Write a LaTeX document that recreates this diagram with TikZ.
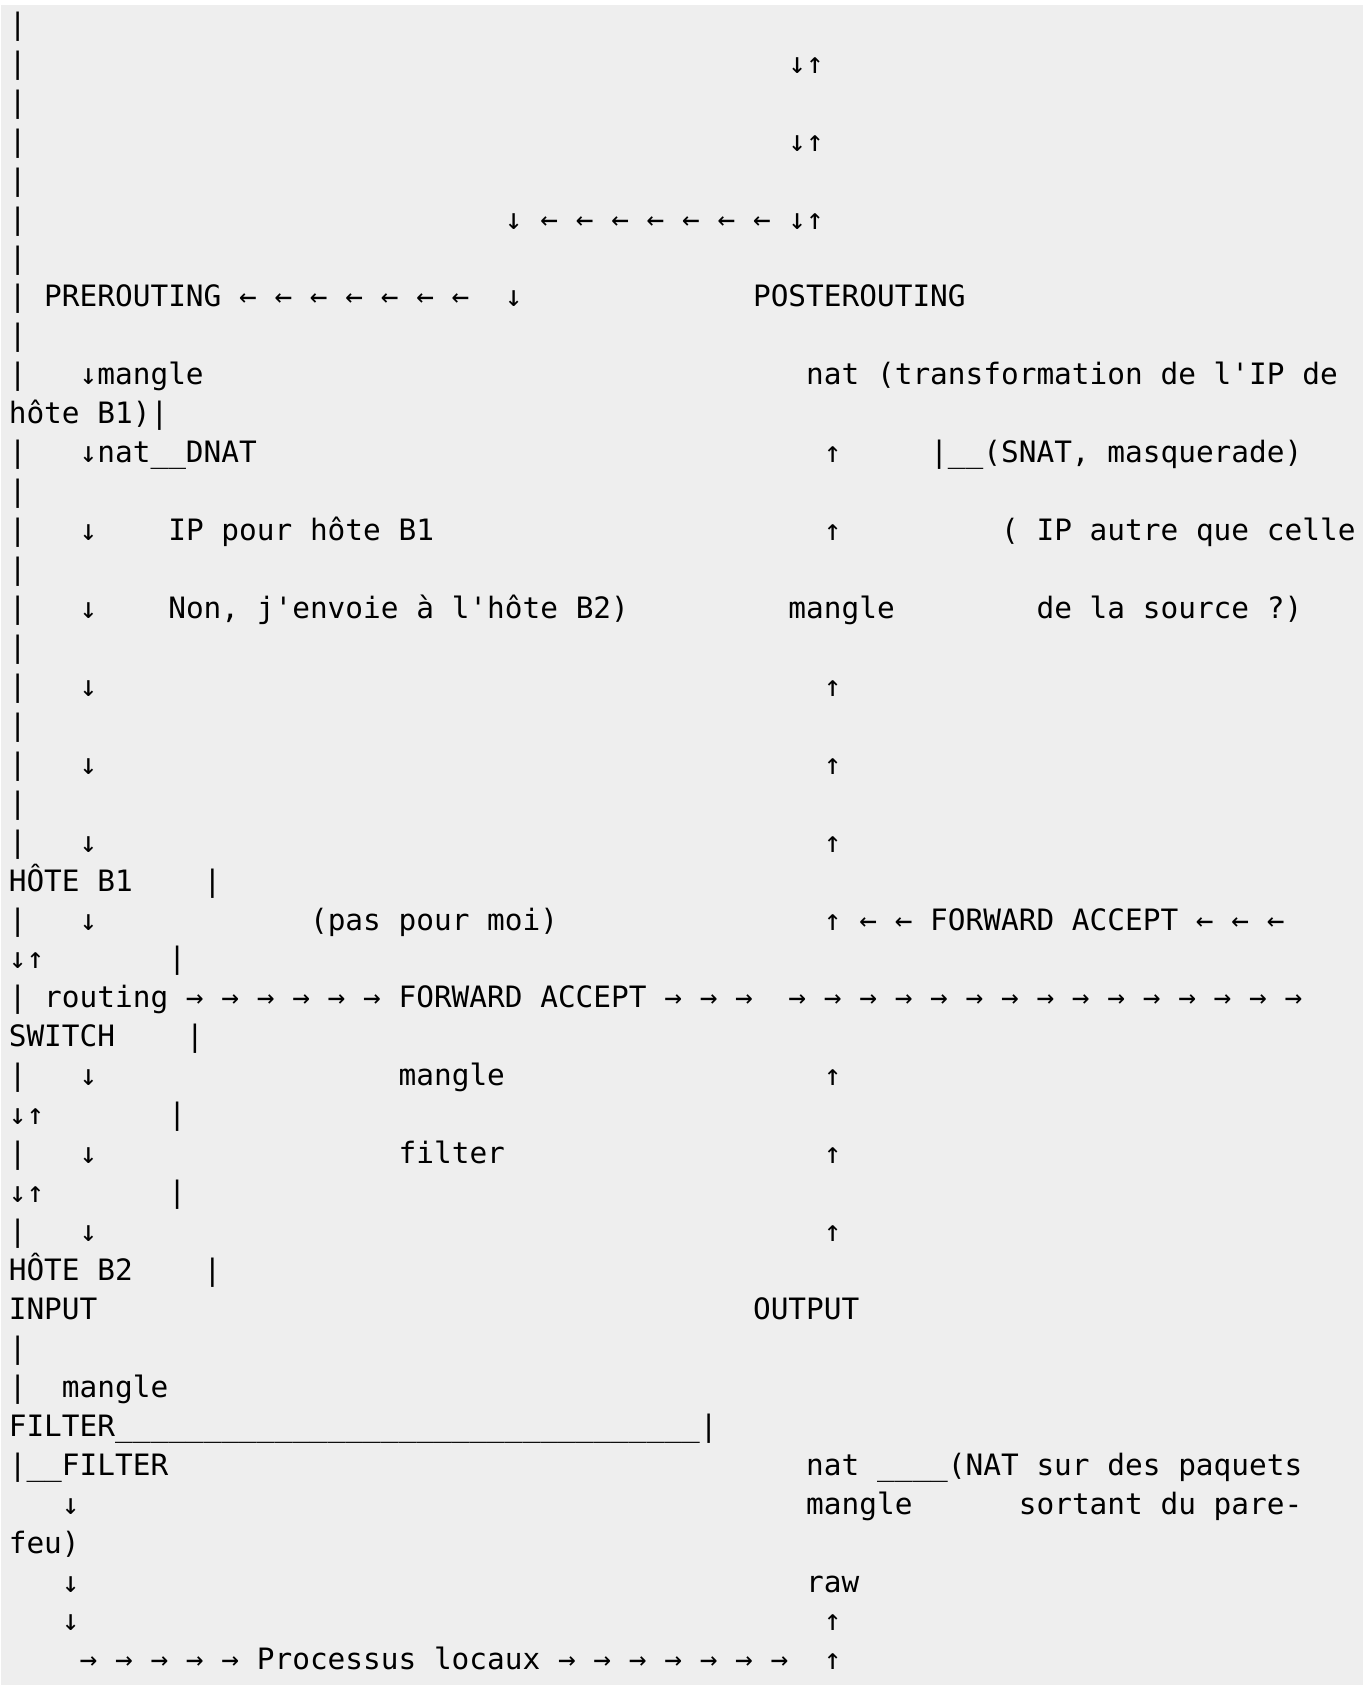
\documentclass[tikz,border=0pt]{standalone}
\usepackage{fontspec}
\setmonofont{DejaVu Sans Mono}
\definecolor{bggray}{HTML}{EEEEEE}
\newcommand\seg[4]{\node[txt] (#1) at ({8.8+17.72*(#2)},{34.4+38.94*(#3)}) {#4};}
\begin{document}
\begin{tikzpicture}[x=0.5pt,y=-0.5pt,
  txt/.style={anchor=base west, inner sep=0pt, outer sep=0pt,
    font=\ttfamily\fontsize{14.715pt}{19.47pt}\selectfont, text=black}]
\fill[white] (0,0) rectangle (1370,1685);
\useasboundingbox (0,0) rectangle (1370,1685);
\fill[bggray] (1,5) rectangle (1363,1685);
% left border bars
\foreach \l in {0,1,2,3,4,5,6,7,8,9,11,12,13,14,15,16,17,18,19,20,21,23,25,27,29,31,34,35}{
  \seg{bar\l}{0}{\l}{|}
}
% top
\seg{a1}{44}{1}{↓↑}
\seg{a3}{44}{3}{↓↑}
\seg{a5}{28}{5}{↓ ← ← ← ← ← ← ← ↓↑}
\seg{pre}{2}{7}{PREROUTING ← ← ← ← ← ← ←}
\seg{d7}{28}{7}{↓}
\seg{post}{42}{7}{POSTEROUTING}
\seg{mg9}{4}{9}{↓mangle}
\seg{nat9}{45}{9}{nat (transformation de l'IP de}
\seg{h10}{0}{10}{hôte B1)|}
\seg{dnat}{4}{11}{↓nat\_\_DNAT}
\seg{u11}{46}{11}{↑}
\seg{snat}{52}{11}{|\_\_(SNAT, masquerade)}
\seg{d13}{4}{13}{↓}
\seg{ip13}{9}{13}{IP pour hôte B1}
\seg{u13}{46}{13}{↑}
\seg{ipa}{56}{13}{( IP autre que celle}
\seg{d15}{4}{15}{↓}
\seg{non}{9}{15}{Non, j'envoie à l'hôte B2)}
\seg{mg15}{44}{15}{mangle}
\seg{src}{58}{15}{de la source ?)}
\foreach \l in {17,19,21}{
  \seg{d\l}{4}{\l}{↓}
  \seg{u\l}{46}{\l}{↑}
}
\seg{hb1}{0}{22}{HÔTE B1}
\seg{bar22}{11}{22}{|}
\seg{d23}{4}{23}{↓}
\seg{pas}{17}{23}{(pas pour moi)}
\seg{fwd23}{46}{23}{↑ ← ← FORWARD ACCEPT ← ← ←}
\seg{du24}{0}{24}{↓↑}
\seg{bar24}{9}{24}{|}
\seg{rout}{2}{25}{routing → → → → → → FORWARD ACCEPT → → →}
\seg{arr25}{44}{25}{→ → → → → → → → → → → → → → →}
\seg{sw}{0}{26}{SWITCH}
\seg{bar26}{10}{26}{|}
\seg{d27}{4}{27}{↓}
\seg{mg27}{22}{27}{mangle}
\seg{u27}{46}{27}{↑}
\seg{du28}{0}{28}{↓↑}
\seg{bar28}{9}{28}{|}
\seg{d29}{4}{29}{↓}
\seg{flt29}{22}{29}{filter}
\seg{u29}{46}{29}{↑}
\seg{du30}{0}{30}{↓↑}
\seg{bar30}{9}{30}{|}
\seg{d31}{4}{31}{↓}
\seg{u31}{46}{31}{↑}
\seg{hb2}{0}{32}{HÔTE B2}
\seg{bar32}{11}{32}{|}
\seg{inp}{0}{33}{INPUT}
\seg{outp}{42}{33}{OUTPUT}
\seg{mg35}{3}{35}{mangle}
\seg{filt36}{0}{36}{FILTER\_\_\_\_\_\_\_\_\_\_\_\_\_\_\_\_\_\_\_\_\_\_\_\_\_\_\_\_\_\_\_\_\_|}
\seg{filt37}{0}{37}{|\_\_FILTER}
\seg{nat37}{45}{37}{nat \_\_\_\_(NAT sur des paquets}
\seg{d38}{3}{38}{↓}
\seg{mg38}{45}{38}{mangle}
\seg{sort}{57}{38}{sortant du pare-}
\seg{feu}{0}{39}{feu)}
\seg{d40}{3}{40}{↓}
\seg{raw}{45}{40}{raw}
\seg{d41}{3}{41}{↓}
\seg{u41}{46}{41}{↑}
\seg{proc}{4}{42}{→ → → → → Processus locaux → → → → → → →}
\seg{u42}{46}{42}{↑}
\end{tikzpicture}
\end{document}
